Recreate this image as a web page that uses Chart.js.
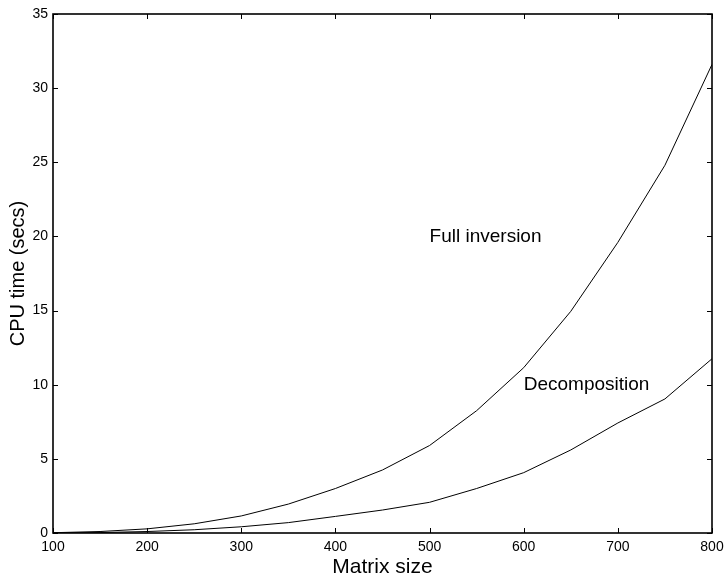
<!DOCTYPE html>
<html>
<head>
<meta charset="utf-8">
<style>
  html, body { margin: 0; padding: 0; background: #fff; }
  #wrap { width: 724px; height: 578px; }
</style>
<script src="https://cdn.jsdelivr.net/npm/chart.js@4/dist/chart.umd.min.js"></script>
</head>
<body>
<div id="wrap"><canvas id="cpu-chart"></canvas></div>
<script>
// matrix sizes
const sizes = [100, 150, 200, 250, 300, 350, 400, 450, 500, 550, 600, 650, 700, 750, 800];
// CPU time in seconds
const fullInversion = [0.02, 0.1, 0.28, 0.62, 1.15, 1.95, 3.0, 4.25, 5.9, 8.25, 11.15, 14.95, 19.6, 24.8, 31.6];
const decomposition = [0, 0.03, 0.1, 0.22, 0.42, 0.7, 1.12, 1.55, 2.07, 3.0, 4.07, 5.6, 7.42, 9.04, 11.75];

const xTicks = [100, 200, 300, 400, 500, 600, 700, 800];
const yTicks = [0, 5, 10, 15, 20, 25, 30, 35];

// in-plot text labels (data coordinates)
const labelTexts = ['Full inversion', 'Decomposition'];
const labelX = [500, 600];
const labelY = [20, 10];

const FONT = '"Liberation Sans", Arial, Helvetica, sans-serif';

function toPoints(ys) {
    return sizes.map((s, i) => ({ x: s, y: ys[i] }));
}

// frame, inward ticks on all four sides, and text labels
const framePlugin = {
    id: 'frame',
    afterDraw(chart) {
        const ctx = chart.ctx;
        const a = chart.chartArea;
        const xs = chart.scales.x;
        const ys = chart.scales.y;
        const tl = 5;

        ctx.save();
        ctx.strokeStyle = '#000';
        ctx.lineWidth = 1;
        ctx.beginPath();
        xTicks.forEach(v => {
            const px = Math.round(xs.getPixelForValue(v)) + 0.5;
            ctx.moveTo(px, a.bottom); ctx.lineTo(px, a.bottom - tl);
            ctx.moveTo(px, a.top); ctx.lineTo(px, a.top + tl);
        });
        yTicks.forEach(v => {
            const py = Math.round(ys.getPixelForValue(v)) + 0.5;
            ctx.moveTo(a.left, py); ctx.lineTo(a.left + tl, py);
            ctx.moveTo(a.right, py); ctx.lineTo(a.right - tl, py);
        });
        ctx.stroke();

        ctx.lineWidth = 1.6;
        ctx.strokeRect(a.left, a.top, a.right - a.left, a.bottom - a.top);

        ctx.fillStyle = '#000';
        ctx.font = '19px ' + FONT;
        ctx.textAlign = 'left';
        ctx.textBaseline = 'middle';
        labelTexts.forEach((t, i) => {
            ctx.fillText(t, xs.getPixelForValue(labelX[i]), ys.getPixelForValue(labelY[i]));
        });
        ctx.restore();
    }
};

const ctx = document.getElementById('cpu-chart').getContext('2d');
new Chart(ctx, {
    type: 'line',
    data: {
        datasets: [
            {
                label: 'Full inversion',
                data: toPoints(fullInversion),
                borderColor: '#000',
                borderWidth: 1,
                pointRadius: 0,
                tension: 0,
                fill: false,
            },
            {
                label: 'Decomposition',
                data: toPoints(decomposition),
                borderColor: '#000',
                borderWidth: 1,
                pointRadius: 0,
                tension: 0,
                fill: false,
            },
        ],
    },
    options: {
        responsive: true,
        maintainAspectRatio: false,
        animation: false,
        layout: { padding: { top: 14, right: 12, left: 0, bottom: 0 } },
        plugins: {
            legend: { display: false },
            tooltip: { enabled: false },
        },
        scales: {
            x: {
                type: 'linear',
                min: 100,
                max: 800,
                afterBuildTicks: (scale) => { scale.ticks = xTicks.map(v => ({ value: v })); },
                afterFit: (scale) => {
                    scale.height = 45;
                    // let the "800" label hang into the right margin
                    scale.paddingLeft = 0;
                    scale.paddingRight = 0;
                },
                grid: { display: false, drawTicks: false },
                border: { display: false },
                ticks: {
                    color: '#000',
                    padding: 6,
                    maxRotation: 0,
                    font: { family: FONT, size: 14 },
                },
                title: {
                    display: true,
                    text: 'Matrix size',
                    color: '#000',
                    padding: 0,
                    font: { family: FONT, size: 21, lineHeight: 1.0 },
                },
            },
            y: {
                type: 'linear',
                min: 0,
                max: 35,
                afterBuildTicks: (scale) => { scale.ticks = yTicks.map(v => ({ value: v })); },
                afterFit: (scale) => { scale.width = 53; },
                grid: { display: false, drawTicks: false },
                border: { display: false },
                ticks: {
                    color: '#000',
                    padding: 5,
                    font: { family: FONT, size: 14 },
                },
                title: {
                    display: true,
                    text: 'CPU time (secs)',
                    color: '#000',
                    padding: { top: 6, bottom: 0 },
                    font: { family: FONT, size: 20 },
                },
            },
        },
    },
    plugins: [framePlugin],
});
</script>
</body>
</html>
